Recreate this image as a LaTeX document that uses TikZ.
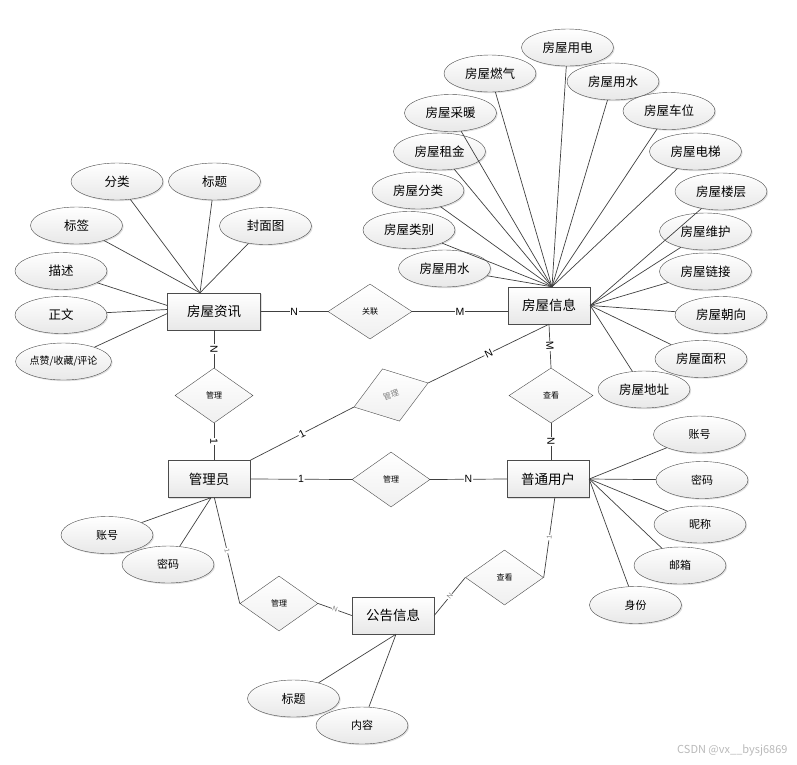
\documentclass[tikz,border=0pt]{standalone}
\usepackage{fontspec}
\setmainfont{Noto Sans CJK SC}
\setsansfont{Liberation Sans}
\usetikzlibrary{shapes.geometric,shadows}
\tikzset{
  entity/.style={draw=black!70,rectangle,minimum width=82pt,minimum height=37pt,inner sep=0pt,
                 top color=white,bottom color=gray!18,font=\fontsize{13.5}{14}\selectfont,
                 drop shadow={shadow xshift=1.2pt,shadow yshift=-1.2pt,fill=gray!60,opacity=0.4}},
  attr/.style={draw=black!70,ellipse,minimum width=92pt,minimum height=37pt,inner sep=0pt,
               top color=white,bottom color=gray!18,font=\fontsize{12.5}{13}\selectfont,
               drop shadow={shadow xshift=1.2pt,shadow yshift=-1.2pt,fill=gray!60,opacity=0.4}},
  small/.style={attr,font=\fontsize{11}{11}\selectfont},
  rel/.style={draw=black!70,diamond,minimum width=78pt,minimum height=55pt,inner sep=0pt,
              top color=white,bottom color=gray!12,font=\fontsize{8}{8}\selectfont},
  link/.style={draw=black!75,line width=0.7pt},
  card/.style={fill=white,inner sep=0.8pt,sloped,font=\sffamily\fontsize{10.5}{10.5}\selectfont},
  tinycard/.style={card,text=gray,font=\sffamily\fontsize{7}{7}\selectfont},
}

\begin{document}
\begin{tikzpicture}[x=1pt,y=-1pt]
\useasboundingbox (0,0) rectangle (797,764);
% entities
\node[entity,minimum width=93pt] (fwzx) at (214,311.5) {房屋资讯};
\node[entity] (fwxx) at (549,305.5) {房屋信息};
\node[entity] (gly) at (209,479) {管理员};
\node[entity] (pthy) at (548,479) {普通用户};
\node[entity] (ggxx) at (393,615.5) {公告信息};
% relations
\node[rel,minimum width=84pt] (glian) at (370,311.5) {关联};
\node[rel] (gl1) at (214,395.5) {管理};
\node[rel,rotate=18,text=gray] (gl2) at (391,395) {管理};
\node[rel,minimum width=84pt] (ck1) at (551,395.5) {查看};
\node[rel] (gl3) at (391,479.5) {管理};
\node[rel] (gl4) at (279,603.5) {管理};
\node[rel] (ck2) at (504.5,577.5) {查看};
\draw[link] (fwzx.east) -- node[card]{N} (glian.west);
\draw[link] (glian.east) -- node[card]{M} (glian.east -| fwxx.west);
\draw[link] (fwzx.south) -- node[card]{N} (gl1.north);
\draw[link] (gl1.south) -- node[card]{1} (gl1.south |- gly.north);
\draw[link] (gly.north east) -- node[card]{1} (gl2.west);
\draw[link] (gl2.east) -- node[card]{N} (fwxx.south);
\draw[link] (fwxx.south) -- node[card]{M} (ck1.north);
\draw[link] (ck1.south) -- node[card]{N} (ck1.south |- pthy.north);
\draw[link] (gly.east) -- node[card]{1} (gl3.west);
\draw[link] (gl3.east) -- node[card]{N} (pthy.west);
\draw[link] (gly.-74) -- node[tinycard]{1} (gl4.west);
\draw[link] (gl4.east) -- node[tinycard]{N} (ggxx.west);
\draw[link] (ggxx.east) -- node[tinycard]{N} (ck2.west);
\draw[link] (ck2.east) -- node[tinycard]{1} (pthy.-70);
% 房屋资讯
\node[attr] (fenlei) at (117,181.5) {分类};
\node[attr] (biaoti) at (214.5,181.5) {标题};
\node[attr] (biaoqian) at (76.5,225.5) {标签};
\node[attr] (fengmian) at (265.5,226) {封面图};
\node[attr] (miaoshu) at (61,271) {描述};
\node[attr] (zhengwen) at (61,315) {正文};
\node[attr,font=\fontsize{10}{10}\selectfont] (dianzan) at (63.5,361.5) {点赞/收藏/评论};
\coordinate (zxtop) at ([xshift=-14pt]fwzx.north);
\foreach \a in {fenlei,biaoti,biaoqian,fengmian}
  \draw[link] (\a) -- (zxtop);
\draw[link] (miaoshu) -- ([yshift=6pt]fwzx.west);
\draw[link] (zhengwen) -- ([yshift=2pt]fwzx.west);
\draw[link] (dianzan) -- ([yshift=-2pt]fwzx.west);
% 房屋信息
\node[attr] (yongdian) at (567.5,47.5) {房屋用电};
\node[attr] (ranqi) at (490,73.5) {房屋燃气};
\node[attr] (yongshui) at (613,81.5) {房屋用水};
\node[attr] (cainuan) at (450.5,113) {房屋采暖};
\node[attr] (chewei) at (669,111) {房屋车位};
\node[attr] (zujin) at (439.5,151.5) {房屋租金};
\node[attr] (dianti) at (695.5,151.5) {房屋电梯};
\node[attr] (fwfenlei) at (418,190.5) {房屋分类};
\node[attr] (louceng) at (721,191.5) {房屋楼层};
\node[attr] (leibie) at (409,230) {房屋类别};
\node[attr] (weihu) at (705.5,231.5) {房屋维护};
\node[attr] (yongshui2) at (444.5,268.5) {房屋用水};
\node[attr] (lianjie) at (705.5,271.5) {房屋链接};
\node[attr] (chaoxiang) at (721,315) {房屋朝向};
\node[attr] (mianji) at (701,359) {房屋面积};
\node[attr] (dizhi) at (644,389.5) {房屋地址};
\coordinate (xxtop) at ([xshift=3pt]fwxx.north);
\foreach \a in {yongdian,ranqi,yongshui,cainuan,chewei,zujin,dianti,fwfenlei,leibie,yongshui2}
  \draw[link] (\a) -- (xxtop);
\foreach \a in {louceng,weihu,lianjie,chaoxiang,mianji,dizhi}
  \draw[link] (\a) -- (fwxx.east);
% 管理员
\node[small] (glzh) at (107,535) {账号};
\node[small] (glmm) at (168,564.5) {密码};
\foreach \a in {glzh,glmm}
  \draw[link] (\a) -- ([xshift=2pt]gly.south);
% 公告信息
\node[attr,font=\fontsize{12}{12}\selectfont] (ggbt) at (293.5,698.5) {标题};
\node[small] (ggnr) at (362,725.5) {内容};
\foreach \a in {ggbt,ggnr}
  \draw[link] (\a) -- ([xshift=3pt]ggxx.south);
% 普通用户
\node[small] (yhzh) at (699.5,434.5) {账号};
\node[small] (yhmm) at (702,480) {密码};
\node[small] (yhnc) at (700,524.5) {昵称};
\node[small] (yhyx) at (680,565.5) {邮箱};
\node[small] (yhsf) at (635.5,605) {身份};
\foreach \a in {yhzh,yhmm,yhnc,yhyx,yhsf}
  \draw[link] (\a) -- (pthy.east);
\node[font=\fontsize{11}{11}\selectfont,text=gray!55,anchor=east] (csdn) at (791,750) {CSDN @vx\_\_bysj6869};
\end{tikzpicture}
\end{document}
